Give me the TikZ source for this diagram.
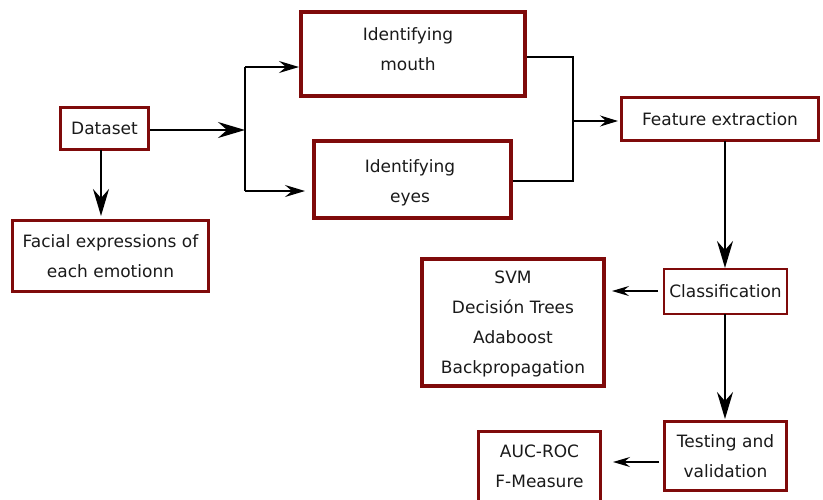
\documentclass[tikz,border=0pt]{standalone}
\usepackage{fontspec}
\setmainfont{DejaVu Sans}
\usetikzlibrary{arrows.meta}
\definecolor{boxred}{HTML}{7F0A0A}
\definecolor{txt}{HTML}{1A1A1A}
\begin{document}
\begin{tikzpicture}[x=1pt,y=-1pt,
  box/.style={draw=boxred, fill=white, rectangle, inner sep=0pt, align=center,
    text=txt, font=\fontsize{17}{30}\selectfont},
  lbl/.style={inner sep=0pt, align=center, text=txt, font=\fontsize{17}{30}\selectfont},
  conn/.style={line width=1.7pt, draw=black},
  bigarrow/.style={conn, -{Stealth[length=27pt,width=16pt,inset=9pt]}},
  vbigarrow/.style={conn, line width=2pt, -{Stealth[length=27pt,width=16pt,inset=9pt]}},
  medarrow/.style={conn, -{Stealth[length=20pt,width=12pt,inset=7pt]}},
  smallarrow/.style={conn, line width=1.5pt, -{Stealth[length=17pt,width=10pt,inset=6pt]}}]
\useasboundingbox (0,0) rectangle (823,499);
\node[box, line width=3pt, minimum width=88pt, minimum height=42pt] (ds) at (104.5,128.5) {Dataset};
\node[box, line width=3pt, minimum width=196pt, minimum height=71pt] (fac) at (110.5,256) {Facial expressions of\\ each emotionn};
\node[box, line width=4pt, minimum width=224pt, minimum height=84pt] (mouth) at (413,54) {};
\node[lbl] (mouthtxt) at (408,49) {Identifying\\ mouth};
\node[box, line width=4pt, minimum width=197pt, minimum height=77pt] (eyes) at (412.5,179.5) {};
\node[lbl] (eyestxt) at (410,183) {Identifying\\ eyes};
\node[box, line width=3pt, minimum width=197pt, minimum height=43pt] (feat) at (720,119) {Feature extraction};
\node[box, line width=2pt, minimum width=123pt, minimum height=45pt] (cls) at (725.5,291.5) {Classification};
\node[box, line width=4pt, minimum width=182pt, minimum height=127pt] (svm) at (513,322.5) {};
\node[lbl] (svmtxt) at (513,324) {SVM\\ Decisión Trees\\ Adaboost\\ Backpropagation};
\node[box, line width=3pt, minimum width=122pt, minimum height=69pt] (test) at (725.5,456) {Testing and\\ validation};
\node[box, line width=3pt, minimum width=122pt, minimum height=70pt] (auc) at (539.5,466) {AUC-ROC\\ F-Measure};

% junction from dataset
\coordinate (jt) at (245,67);
\coordinate (jm) at (245,130);
\coordinate (jb) at (245,191);
\coordinate (eyesin) at (305,191);
\draw[bigarrow] (ds.east |- jm) -- (jm);
\draw[conn] (jt) -- (jb);
\draw[medarrow] (jt) -- (jt -| mouth.west);
\draw[medarrow] (jb) -- (eyesin);
\coordinate (dsb) at (101,149.5);
\coordinate (facin) at (101,216);
\draw[vbigarrow] (dsb) -- (facin);

% merge mouth/eyes
\coordinate (mr) at (573,57);
\coordinate (er) at (573,181);
\coordinate (fm) at (573,121);
\coordinate (fin) at (618,121);
\draw[line width=2pt, line join=miter] (mouth.east |- mr) -- (mr) -- (er) -- (eyes.east |- er);
\draw[conn, line width=1.5pt, -{Stealth[length=18pt,width=11pt,inset=6pt]}] (fm) -- (fin);

% vertical chain
\coordinate (fb) at (725,140.5);
\coordinate (cin) at (725,268);
\draw[vbigarrow] (fb) -- (cin);
\coordinate (cb) at (725,314);
\coordinate (tin) at (725,419);
\draw[vbigarrow] (cb) -- (tin);

% left arrows
\coordinate (cl) at (658,291);
\coordinate (sin) at (612,291);
\draw[smallarrow] (cl) -- (sin);
\coordinate (tl) at (659,462);
\coordinate (ain) at (613,462);
\draw[smallarrow] (tl) -- (ain);
\end{tikzpicture}
\end{document}
